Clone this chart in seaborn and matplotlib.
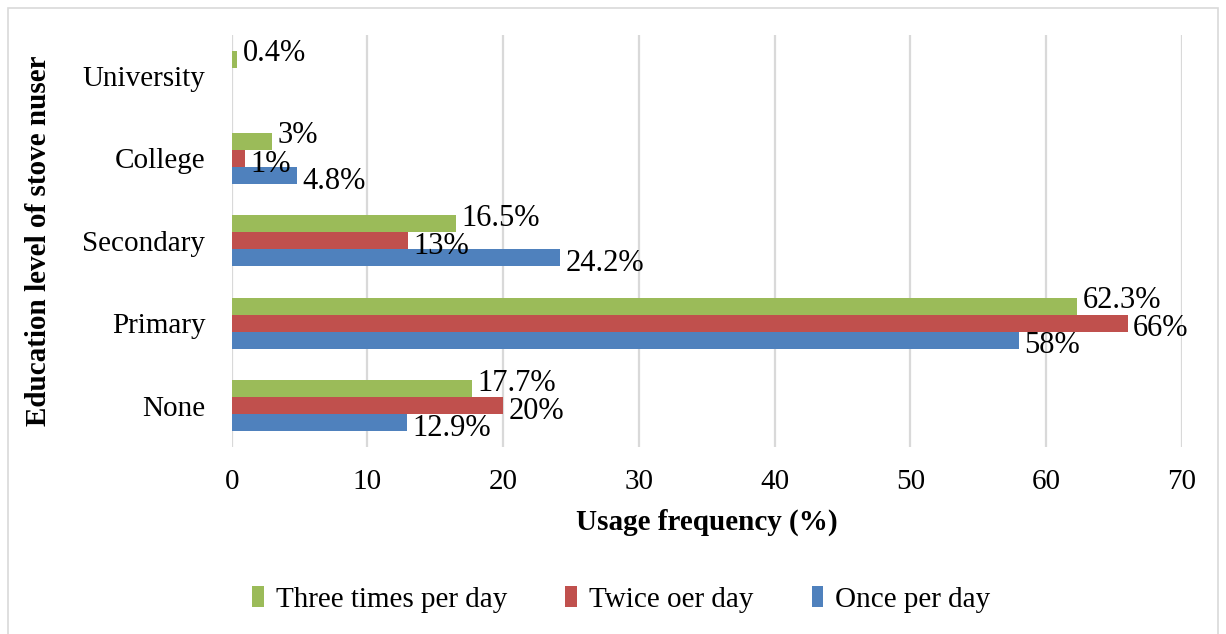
import matplotlib
matplotlib.use("Agg")
import matplotlib.pyplot as plt
import seaborn as sns
import pandas as pd
from matplotlib.patches import Rectangle

categories = ["University", "College", "Secondary", "Primary", "None"]
series_names = ["Three times per day", "Twice oer day", "Once per day"]
three_times = [0.4, 3, 16.5, 62.3, 17.7]
twice = [0, 1, 13, 66, 20]
once = [0, 4.8, 24.2, 58, 12.9]
x_ticks = [0, 10, 20, 30, 40, 50, 60, 70]
colors = ["#9BBB59", "#C0504D", "#4F81BD"]

rows = []
for name, vals in zip(series_names, [three_times, twice, once]):
    for c, v in zip(categories, vals):
        rows.append({"Education": c, "Series": name, "Value": v})
df = pd.DataFrame(rows)

sns.set_style("white")
plt.rcParams["font.family"] = ["Liberation Serif", "DejaVu Serif"]
plt.rcParams["text.color"] = "black"
plt.rcParams["axes.labelcolor"] = "black"
plt.rcParams["xtick.color"] = "black"
plt.rcParams["ytick.color"] = "black"

fig = plt.figure(figsize=(12.26, 6.34), dpi=100)
ax = fig.add_axes([0.189, 0.295, 0.775, 0.65])

sns.barplot(data=df, y="Education", x="Value", hue="Series", order=categories,
            hue_order=series_names, palette=colors, orient="h", width=0.62,
            gap=0, saturation=1, ax=ax, legend=True, edgecolor="none")

# vertical offsets (points) mimicking the reference label placement
v_offsets = [4, -4, -4]
for cont, vals, dy in zip(ax.containers, [three_times, twice, once], v_offsets):
    for bar, v in zip(cont, vals):
        if v <= 0:
            continue
        yc = bar.get_y() + bar.get_height() / 2
        ax.annotate(f"{v:g}%", xy=(v, yc), xytext=(4, dy), textcoords="offset points",
                    ha="left", va="center", fontsize=22, color="black")

ax.set_xlim(0, 70)
ax.set_xticks(x_ticks)
ax.tick_params(axis="x", labelsize=21, length=0, pad=16, labelcolor="black")
ax.tick_params(axis="y", labelsize=21, length=0, pad=19, labelcolor="black")
ax.grid(axis="x", color="#D9D9D9", linewidth=1.6)
ax.set_axisbelow(True)
for s in ax.spines.values():
    s.set_visible(False)
ax.set_xlabel("Usage frequency (%)", fontsize=21, fontweight="bold", labelpad=10, color="black")
ax.set_ylabel("Education level of stove nuser", fontsize=21, fontweight="bold", labelpad=22, color="black")

handles, labels = ax.get_legend_handles_labels()
leg = ax.legend(handles, labels, loc="center", bbox_to_anchor=(0.41, -0.37), ncol=3,
                frameon=False, fontsize=21, handlelength=0.4, handleheight=0.75,
                handletextpad=0.4, columnspacing=2.0)
for t in leg.get_texts():
    t.set_color("black")

fig.patches.append(Rectangle((8 / 1226, -0.01), 1210 / 1226, 1 - 8 / 634 + 0.01,
                             transform=fig.transFigure, fill=False,
                             edgecolor="#D9D9D9", linewidth=1.2))

fig.savefig("out.png", dpi=100)
